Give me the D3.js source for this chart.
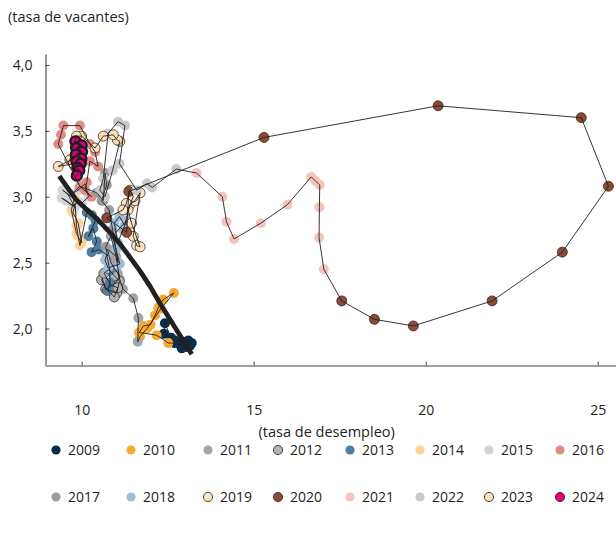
<!DOCTYPE html>
<html>
<head>
<meta charset="utf-8">
<script src="https://cdn.jsdelivr.net/npm/d3@7"></script>
<style>
  html, body { margin: 0; padding: 0; background: #fff; }
  svg { display: block; font-family: "Open Sans", "Noto Sans", sans-serif; }
</style>
</head>
<body>
<svg id="chart" width="616" height="534"></svg>
<script>
// ---------------- DATA ----------------
const years = [2009, 2010, 2011, 2012, 2013, 2014, 2015, 2016, 2017, 2018, 2019, 2020, 2021, 2022, 2023, 2024];
const yearColors = ["#0b2d4b", "#f6a931", "#a5a5a7", "#b3b3b5", "#4d7f9f", "#fdd397", "#d4d4d6", "#e28c86",
                    "#9c9c9e", "#9fbdd5", "#fde6c6", "#8b4b34", "#f4c4bb", "#c9c9cb", "#fde0b4", "#e2007a"];
const yearStroked = [false, false, false, true, false, false, false, false,
                     false, false, true, true, false, false, true, true];

// unemployment rate (x) by year, monthly
const unemploymentByYear = [
  [12.39, 12.42, 12.60, 12.71, 12.95, 13.10, 13.20, 13.05, 12.91, 13.15, 12.85, 12.70],
  [12.52, 12.18, 11.67, 11.80, 12.00, 12.13, 12.23, 12.37, 12.68, 12.30, 11.90, 11.70],
  [11.63, 11.65, 11.50, 11.20, 11.05, 10.85, 10.75, 11.00, 11.10, 10.90, 10.70, 10.60],
  [10.58, 10.70, 10.90, 11.02, 11.10, 10.95, 10.80, 10.65, 10.85, 11.05, 10.95, 10.75],
  [10.77, 10.82, 10.82, 10.73, 10.50, 10.29, 10.44, 10.34, 10.20, 10.40, 10.30, 10.15],
  [9.95, 9.90, 9.85, 9.81, 9.75, 9.90, 10.00, 9.85, 9.70, 9.80, 9.90, 9.75],
  [9.42, 9.56, 9.80, 9.60, 9.45, 9.70, 10.00, 10.20, 10.10, 9.90, 9.70, 9.95],
  [9.32, 9.40, 9.47, 9.95, 10.24, 10.39, 10.48, 10.24, 10.15, 10.10, 10.29, 9.95],
  [10.44, 10.63, 10.68, 10.73, 10.58, 10.80, 10.90, 11.06, 10.95, 10.85, 10.70, 10.75],
  [10.73, 10.68, 10.77, 11.11, 11.00, 10.90, 11.31, 11.20, 11.05, 10.95, 11.10, 11.25],
  [11.40, 11.55, 11.70, 11.50, 11.60, 11.70, 11.45, 11.35, 11.50, 11.40, 11.30, 11.20],
  [10.73, 11.31, 11.37, 15.30, 20.36, 24.52, 25.31, 23.97, 21.93, 19.64, 18.51, 17.56],
  [17.04, 16.90, 16.91, 16.92, 16.80, 16.67, 15.98, 15.21, 14.43, 14.21, 14.09, 13.34],
  [12.75, 12.05, 11.90, 11.60, 11.10, 11.26, 11.06, 10.77, 10.63, 10.53, 10.68, 10.90],
  [11.11, 11.04, 10.92, 10.63, 10.39, 10.00, 9.85, 9.66, 9.76, 9.32, 9.85, 10.00],
  [9.82, 10.00, 9.84, 10.01, 9.83, 9.99, 9.85, 9.97, 9.88, 9.93, 9.86]
];
// vacancy rate (y) by year, monthly
const vacancyByYear = [
  [1.96, 2.04, 1.93, 1.91, 1.90, 1.91, 1.89, 1.86, 1.85, 1.87, 1.88, 1.89],
  [1.89, 1.95, 1.97, 2.02, 2.03, 2.10, 2.16, 2.22, 2.27, 2.15, 2.00, 1.94],
  [1.90, 2.08, 2.23, 2.30, 2.42, 2.50, 2.60, 2.55, 2.38, 2.33, 2.30, 2.38],
  [2.37, 2.30, 2.28, 2.27, 2.36, 2.40, 2.45, 2.42, 2.33, 2.31, 2.24, 2.29],
  [2.29, 2.35, 2.44, 2.56, 2.60, 2.58, 2.66, 2.76, 2.70, 2.82, 2.86, 2.88],
  [2.63, 2.70, 2.78, 2.95, 2.88, 2.80, 2.65, 2.72, 2.90, 3.00, 2.96, 2.93],
  [2.99, 2.97, 2.92, 3.02, 3.05, 3.00, 2.95, 3.00, 3.10, 3.05, 3.02, 3.08],
  [3.40, 3.47, 3.54, 3.54, 3.40, 3.34, 3.23, 3.27, 3.11, 3.05, 3.00, 3.08],
  [3.03, 2.97, 3.18, 3.09, 2.97, 2.90, 2.75, 2.50, 2.60, 2.70, 2.62, 2.55],
  [2.56, 2.52, 2.46, 2.49, 2.60, 2.70, 2.82, 2.75, 2.65, 2.80, 2.85, 2.78],
  [2.94, 2.97, 3.03, 2.70, 2.63, 2.62, 2.80, 2.90, 3.00, 3.05, 2.95, 2.90],
  [2.84, 2.73, 3.04, 3.45, 3.69, 3.60, 3.08, 2.58, 2.21, 2.02, 2.07, 2.21],
  [2.45, 2.69, 2.92, 3.09, 3.12, 3.15, 2.94, 2.80, 2.68, 2.81, 3.00, 3.18],
  [3.21, 3.07, 3.10, 3.05, 3.25, 3.54, 3.57, 3.48, 3.14, 3.05, 3.00, 3.20],
  [3.42, 3.43, 3.47, 3.46, 3.37, 3.46, 3.46, 3.28, 3.25, 3.23, 3.30, 3.34],
  [3.42, 3.39, 3.37, 3.34, 3.32, 3.29, 3.27, 3.25, 3.22, 3.20, 3.16]
];
// fitted Beveridge curve (thick line)
const fitUnemployment = [9.35, 9.85, 10.53, 10.82, 11.11, 11.69, 11.99, 12.28, 13.20];
const fitVacancy      = [3.157, 2.975, 2.81, 2.73, 2.645, 2.44, 2.32, 2.19, 1.805];

const xTicks = [10, 15, 20, 25];
const yTicks = [2.0, 2.5, 3.0, 3.5, 4.0];
const yTitle = "(tasa de vacantes)";
const xTitle = "(tasa de desempleo)";

// ---------------- CHART ----------------
const svg = d3.select("#chart");
const x = d3.scaleLinear().domain([8.95, 25.53]).range([45.5, 616]);
const y = d3.scaleLinear().domain([1.72, 4.083]).range([365.5, 54]);
const axisColor = "#7f7f7f";
const textColor = "#231f20";

// points
const points = [];
years.forEach((yr, i) => {
  unemploymentByYear[i].forEach((u, j) => {
    points.push({ year: yr, idx: i, u: u, v: vacancyByYear[i][j] });
  });
});

const gPts = svg.append("g");
gPts.selectAll("circle").data(points).join("circle")
  .attr("cx", d => x(d.u))
  .attr("cy", d => y(d.v))
  .attr("r", 5)
  .attr("fill", d => yearColors[d.idx])
  .attr("stroke", d => yearStroked[d.idx] ? (d.year === 2024 ? "#1f1a1f" : "#3a2a26") : "none")
  .attr("stroke-width", d => d.year === 2024 ? 2.4 : 0.8);

// thin connecting line
const line = d3.line().x(d => x(d.u)).y(d => y(d.v));
svg.append("path").datum(points)
  .attr("d", line)
  .attr("fill", "none")
  .attr("stroke", "#231f20")
  .attr("stroke-width", 0.9)
  .attr("stroke-linejoin", "miter");

// thick fitted line
const fit = fitUnemployment.map((u, i) => ({ u: u, v: fitVacancy[i] }));
svg.append("path").datum(fit)
  .attr("d", d3.line().x(d => x(d.u)).y(d => y(d.v)))
  .attr("fill", "none")
  .attr("stroke", "#231f20")
  .attr("stroke-width", 4.8)
  .attr("stroke-linejoin", "round")
  .attr("stroke-linecap", "butt");

// axes
const yAxis = svg.append("g").attr("transform", `translate(${x.range()[0]},0)`)
  .call(d3.axisLeft(y).tickValues(yTicks).tickSizeInner(-4).tickSizeOuter(0).tickPadding(13)
        .tickFormat(d => d3.format(".1f")(d).replace(".", ",")));
const xAxis = svg.append("g").attr("transform", `translate(0,${y.range()[0]})`)
  .call(d3.axisBottom(x).tickValues(xTicks).tickSizeInner(-4).tickSizeOuter(0).tickPadding(40));
[yAxis, xAxis].forEach(g => {
  g.select(".domain").attr("stroke", axisColor).attr("stroke-width", 1.6);
  g.selectAll(".tick line").attr("stroke", textColor).attr("stroke-width", 0.8);
  g.selectAll(".tick text").attr("fill", textColor).attr("font-size", 14)
    .attr("font-family", '"Open Sans", sans-serif');
});

svg.append("text").attr("x", 8).attr("y", 22).attr("fill", textColor)
  .attr("font-size", 14.5).text(yTitle);
svg.append("text").attr("x", (x(10) + x(25)) / 2 - 13).attr("y", 437).attr("fill", textColor)
  .attr("text-anchor", "middle").attr("font-size", 14.5).text(xTitle);

// legend
const legendX = [56, 131, 208, 278, 350, 420, 489, 560];
const legendY = [450, 497];
const leg = svg.append("g");
years.forEach((yr, i) => {
  const cx = legendX[i % 8], cy = legendY[Math.floor(i / 8)];
  const g = leg.append("g").attr("transform", `translate(${cx},${cy})`);
  g.append("circle").attr("r", 4.6).attr("fill", yearColors[i])
    .attr("stroke", yearStroked[i] ? "#3a2a26" : "none").attr("stroke-width", 0.9);
  g.append("text").attr("x", 12).attr("y", 5).attr("font-size", 14).attr("fill", textColor).text(yr);
});
</script>
</body>
</html>
